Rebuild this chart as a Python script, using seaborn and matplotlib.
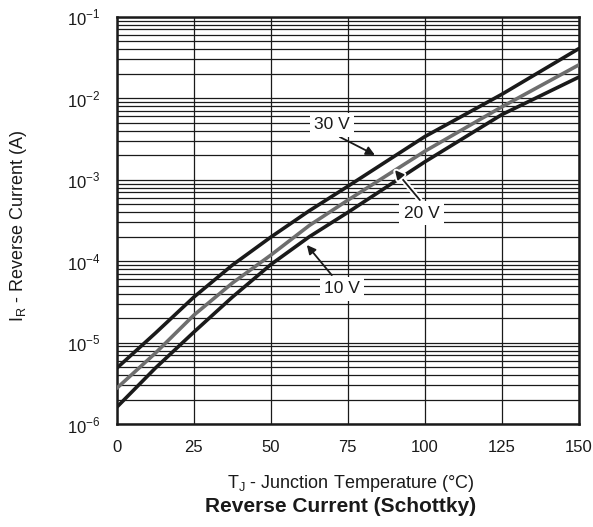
import matplotlib
matplotlib.use("Agg")
import matplotlib.pyplot as plt
import matplotlib.ticker as mticker
import matplotlib.patheffects as pe
import numpy as np
import seaborn as sns
import pandas as pd

# values (junction temperature vs reverse current)
temp = [0, 12.5, 25, 37.5, 50, 62.5, 75, 100, 125, 150]
ir_30v = [4.88e-6, 1.31e-5, 3.63e-5, 8.97e-5, 1.98e-4, 4.17e-4, 8.32e-4, 3.39e-3, 1.12e-2, 4.07e-2]
ir_20v = [2.77e-6, 7.45e-6, 2.18e-5, 5.40e-5, 1.19e-4, 2.75e-4, 5.62e-4, 2.24e-3, 7.85e-3, 2.57e-2]
ir_10v = [1.62e-6, 4.88e-6, 1.35e-5, 3.63e-5, 9.12e-5, 2.00e-4, 3.98e-4, 1.66e-3, 6.31e-3, 1.82e-2]
volts = ["30 V", "20 V", "10 V"]

n = len(temp)
df = pd.DataFrame({
    "temp": temp * 3,
    "ir": ir_30v + ir_20v + ir_10v,
    "volt": [volts[0]] * n + [volts[1]] * n + [volts[2]] * n,
})

sns.set_style("white")
plt.rcParams["font.family"] = ["Liberation Sans", "DejaVu Sans"]
plt.rcParams["mathtext.fontset"] = "custom"
plt.rcParams["mathtext.rm"] = "Liberation Sans"

ink = "#1a1a1a"
fig = plt.figure(figsize=(5.93, 5.27), dpi=100)
ax = fig.add_axes([0.197, 0.195, 0.779, 0.773])

pal = {"30 V": ink, "20 V": "#6e6e6e", "10 V": ink}
sns.lineplot(data=df, x="temp", y="ir", hue="volt", palette=pal,
             linewidth=2.6, ax=ax, legend=False, zorder=3)

ax.set_yscale("log")
ax.set_xlim(0, 150)
ax.set_ylim(1e-6, 1e-1)
ax.set_xticks([0, 25, 50, 75, 100, 125, 150])
ax.yaxis.set_minor_locator(mticker.LogLocator(base=10, subs=np.arange(2, 10), numticks=20))
ax.yaxis.set_minor_formatter(mticker.NullFormatter())
ax.set_yticks([1e-6, 1e-5, 1e-4, 1e-3, 1e-2, 1e-1])
ax.set_yticklabels([r"10$^{\mathregular{-%d}}$" % k for k in [6, 5, 4, 3, 2, 1]])

ax.grid(True, which="major", axis="both", color=ink, linewidth=0.9)
ax.grid(True, which="minor", axis="y", color=ink, linewidth=0.9)
ax.tick_params(axis="both", which="both", length=0, labelsize=12, colors=ink)
ax.tick_params(axis="x", pad=11)
ax.tick_params(axis="y", pad=12)
for s in ax.spines.values():
    s.set_linewidth(1.8)
    s.set_color(ink)

ax.set_xlabel("")
ax.set_ylabel("")
fig.text(0.592, 1 - 483 / 527, r"T$_{\mathregular{J}}$ - Junction Temperature (°C)",
         ha="center", va="center", fontsize=13, color=ink)
fig.text(0.031, 1 - 226 / 527, r"I$_{\mathregular{R}}$ - Reverse Current (A)",
         ha="center", va="center", rotation=90, fontsize=13, color=ink)
fig.text(0.575, 1 - 506 / 527, "Reverse Current (Schottky)", ha="center", va="center",
         fontsize=15, fontweight="bold", color=ink)

box = dict(boxstyle="square,pad=0.25", fc="white", ec="none")
notes = [
    ("30 V", (69.8, 10 ** -2.327), (72.4, 10 ** -2.474), (83.8, 10 ** -2.695)),
    ("20 V", (99.0, 10 ** -3.408), (98.4, 10 ** -3.248), (90.3, 10 ** -2.88)),
    ("10 V", (73.1, 10 ** -4.34), (69.8, 10 ** -4.17), (61.7, 10 ** -3.80)),
]
for label, txt, tail, head in notes:
    arrow = dict(arrowstyle="-|>", color=ink, lw=1.3, mutation_scale=13,
                 shrinkA=0, shrinkB=0)
    if label == "20 V":
        arrow["path_effects"] = [pe.withStroke(linewidth=4, foreground="white")]
    ax.annotate("", xy=head, xytext=tail, arrowprops=arrow, zorder=4)
    ax.text(txt[0], txt[1], label, ha="center", va="center", fontsize=12.5,
            color=ink, bbox=box, zorder=5)

fig.savefig("out.png", dpi=100)
